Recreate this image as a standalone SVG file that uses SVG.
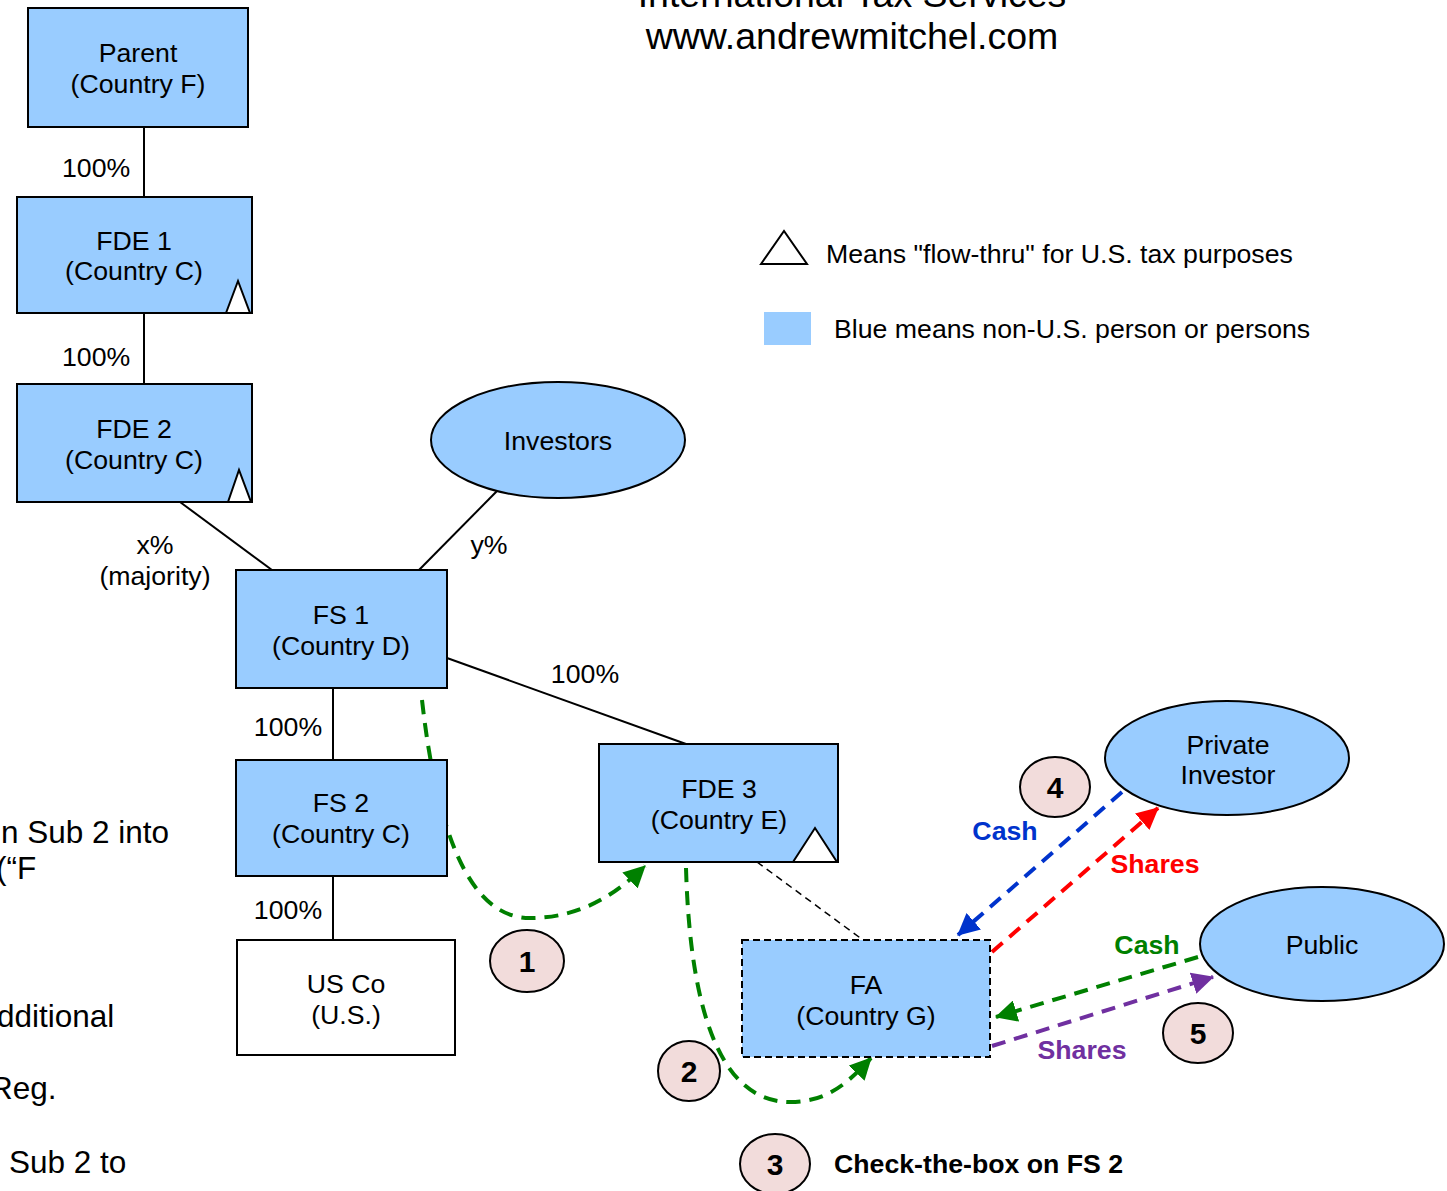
<svg xmlns="http://www.w3.org/2000/svg" width="1447" height="1191" viewBox="0 0 1447 1191">
<style>
text{font-family:"Liberation Sans",Arial,sans-serif;fill:#000}
.n{font-size:26.7px;text-anchor:middle}
.l{font-size:26.7px}
.b{font-size:26.7px;font-weight:bold;text-anchor:middle}
.big{font-size:31.5px}
.box{fill:#99ccff;stroke:#000;stroke-width:2}
.tri{fill:#fff;stroke:#000;stroke-width:2}
.num{fill:#f2dcdb;stroke:#000;stroke-width:2}
.ln{stroke:#000;stroke-width:2;fill:none}
.dg{stroke:#008000;stroke-width:4;stroke-dasharray:14 9;fill:none}
</style>
<defs>
<marker id="ag" viewBox="0 0 20 20" refX="19" refY="10" markerUnits="userSpaceOnUse" markerWidth="22" markerHeight="22" orient="auto"><path d="M0,0 L20,10 L0,20 z" fill="#008000"/></marker>
<marker id="ab" viewBox="0 0 20 20" refX="19" refY="10" markerUnits="userSpaceOnUse" markerWidth="22" markerHeight="22" orient="auto"><path d="M0,0 L20,10 L0,20 z" fill="#0033cc"/></marker>
<marker id="ar" viewBox="0 0 20 20" refX="19" refY="10" markerUnits="userSpaceOnUse" markerWidth="22" markerHeight="22" orient="auto"><path d="M0,0 L20,10 L0,20 z" fill="#ff0000"/></marker>
<marker id="ap" viewBox="0 0 20 20" refX="19" refY="10" markerUnits="userSpaceOnUse" markerWidth="22" markerHeight="22" orient="auto"><path d="M0,0 L20,10 L0,20 z" fill="#7030a0"/></marker>
</defs>

<g id="header">
<text x="852" y="7" font-size="37.5" text-anchor="middle">International Tax Services</text>
<text x="852" y="49" font-size="37.5" text-anchor="middle">www.andrewmitchel.com</text>
</g>

<g id="sidetext">
<text class="big" x="1" y="843">n Sub 2 into</text>
<text class="big" x="-4" y="879">(“F</text>
<text class="big" x="-3" y="1027">dditional</text>
<text class="big" x="-10" y="1099">Reg.</text>
<text class="big" x="9" y="1173">Sub 2 to</text>
</g>

<g id="connectors">
<line class="ln" x1="144" y1="127" x2="144" y2="197"/>
<line class="ln" x1="144" y1="313" x2="144" y2="384"/>
<line class="ln" x1="180" y1="502" x2="272" y2="570"/>
<line class="ln" x1="497" y1="491" x2="419" y2="570"/>
<line class="ln" x1="447" y1="658" x2="686" y2="744"/>
<line class="ln" x1="333" y1="688" x2="333" y2="760"/>
<line class="ln" x1="333" y1="876" x2="333" y2="940"/>
<line x1="757" y1="862" x2="863" y2="940" stroke="#000" stroke-width="1.5" stroke-dasharray="7 5"/>
<path class="dg" d="M422,700 C440,860 480,918 530,918 C580,918 615,895 645,866" marker-end="url(#ag)"/>
<path class="dg" d="M686,868 C690,1010 720,1102 790,1102 C830,1102 850,1080 871,1058" marker-end="url(#ag)"/>
<line x1="1122" y1="792" x2="958" y2="935" stroke="#0033cc" stroke-width="4" stroke-dasharray="14 9" marker-end="url(#ab)"/>
<line x1="992" y1="952" x2="1158" y2="808" stroke="#ff0000" stroke-width="4" stroke-dasharray="14 9" marker-end="url(#ar)"/>
<line x1="1198" y1="957" x2="996" y2="1017" stroke="#008000" stroke-width="4" stroke-dasharray="14 9" marker-end="url(#ag)"/>
<line x1="992" y1="1046" x2="1213" y2="977" stroke="#7030a0" stroke-width="4" stroke-dasharray="14 9" marker-end="url(#ap)"/>
<text class="l" x="62" y="177">100%</text>
<text class="l" x="62" y="366">100%</text>
<text class="n" x="155" y="554">x%</text>
<text class="n" x="155" y="585">(majority)</text>
<text class="n" x="489" y="554">y%</text>
<text class="n" x="585" y="683">100%</text>
<text class="n" x="288" y="736">100%</text>
<text class="n" x="288" y="919">100%</text>
<text class="b" x="1005" y="840" style="fill:#0033cc">Cash</text>
<text class="b" x="1155" y="873" style="fill:#ff0000">Shares</text>
<text class="b" x="1147" y="954" style="fill:#008000">Cash</text>
<text class="b" x="1082" y="1059" style="fill:#7030a0">Shares</text>
</g>

<g id="parent">
<rect class="box" x="28" y="8" width="220" height="119"/>
<text class="n" x="138" y="62">Parent</text>
<text class="n" x="138" y="93">(Country F)</text>
</g>
<g id="fde1">
<rect class="box" x="17" y="197" width="235" height="116"/>
<text class="n" x="134" y="250">FDE 1</text>
<text class="n" x="134" y="280">(Country C)</text>
<polygon class="tri" points="226,313 238,281 250,313"/>
</g>
<g id="fde2">
<rect class="box" x="17" y="384" width="235" height="118"/>
<text class="n" x="134" y="438">FDE 2</text>
<text class="n" x="134" y="469">(Country C)</text>
<polygon class="tri" points="228,502 239,470 251,502"/>
</g>
<g id="investors">
<ellipse class="box" cx="558" cy="440" rx="127" ry="58"/>
<text class="n" x="558" y="450">Investors</text>
</g>
<g id="fs1">
<rect class="box" x="236" y="570" width="211" height="118"/>
<text class="n" x="341" y="624">FS 1</text>
<text class="n" x="341" y="655">(Country D)</text>
</g>
<g id="fs2">
<rect class="box" x="236" y="760" width="211" height="116"/>
<text class="n" x="341" y="812">FS 2</text>
<text class="n" x="341" y="843">(Country C)</text>
</g>
<g id="usco">
<rect x="237" y="940" width="218" height="115" fill="#fff" stroke="#000" stroke-width="2"/>
<text class="n" x="346" y="993">US Co</text>
<text class="n" x="346" y="1024">(U.S.)</text>
</g>
<g id="fde3">
<rect class="box" x="599" y="744" width="239" height="118"/>
<text class="n" x="719" y="798">FDE 3</text>
<text class="n" x="719" y="829">(Country E)</text>
<polygon class="tri" points="793,862 815,828 837,862"/>
</g>
<g id="fa">
<rect x="742" y="940" width="248" height="117" fill="#99ccff" stroke="#000" stroke-width="2" stroke-dasharray="7 4"/>
<text class="n" x="866" y="994">FA</text>
<text class="n" x="866" y="1025">(Country G)</text>
</g>
<g id="private">
<ellipse class="box" cx="1227" cy="758" rx="122" ry="57"/>
<text class="n" x="1228" y="754">Private</text>
<text class="n" x="1228" y="784">Investor</text>
</g>
<g id="public">
<ellipse class="box" cx="1322" cy="944" rx="122" ry="57"/>
<text class="n" x="1322" y="954">Public</text>
</g>

<g id="step1"><ellipse class="num" cx="527" cy="961" rx="37" ry="31"/><text class="b" x="527" y="972" style="font-size:30px">1</text></g>
<g id="step2"><ellipse class="num" cx="689" cy="1071" rx="31" ry="30"/><text class="b" x="689" y="1082" style="font-size:30px">2</text></g>
<g id="step3"><ellipse class="num" cx="775" cy="1164" rx="35" ry="30"/><text class="b" x="775" y="1175" style="font-size:30px">3</text><text x="834" y="1173" font-size="26.7" font-weight="bold">Check-the-box on FS 2</text></g>
<g id="step4"><ellipse class="num" cx="1055" cy="787" rx="35" ry="30"/><text class="b" x="1055" y="798" style="font-size:30px">4</text></g>
<g id="step5"><ellipse class="num" cx="1198" cy="1033" rx="35" ry="30"/><text class="b" x="1198" y="1044" style="font-size:30px">5</text></g>

<g id="legend">
<polygon class="tri" points="761,264 784,231 807,264"/>
<text class="l" x="826" y="263">Means "flow-thru" for U.S. tax purposes</text>
<rect x="764" y="312" width="47" height="33" fill="#99ccff"/>
<text class="l" x="834" y="338">Blue means non-U.S. person or persons</text>
</g>
</svg>
